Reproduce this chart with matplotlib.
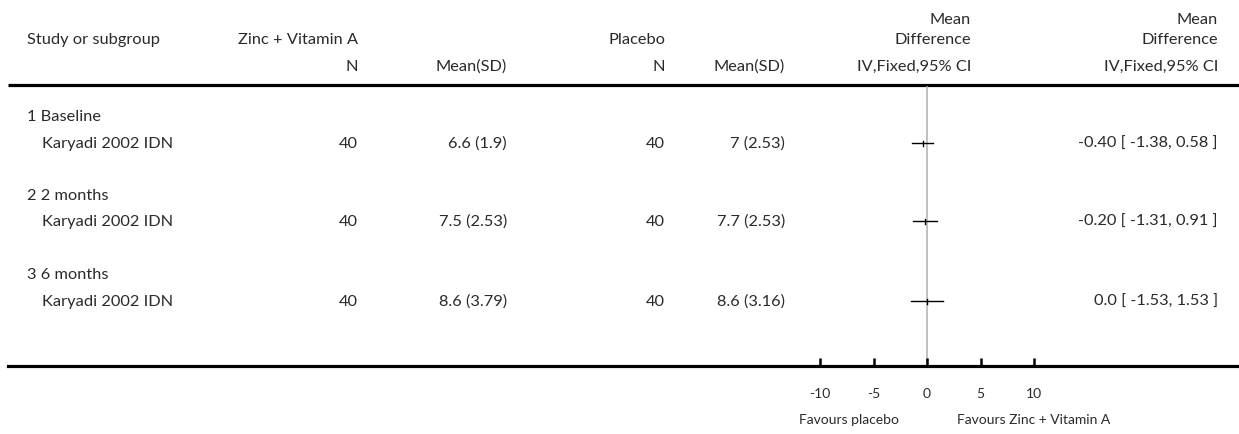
import matplotlib
matplotlib.use("Agg")
import matplotlib.pyplot as plt

plt.rcParams["font.family"] = ["Lato", "DejaVu Sans"]

# ---- data ----
subgroups = ["1 Baseline", "2 2 months", "3 6 months"]
studies = ["Karyadi 2002 IDN", "Karyadi 2002 IDN", "Karyadi 2002 IDN"]
n_treat = [40, 40, 40]
mean_sd_treat = ["6.6 (1.9)", "7.5 (2.53)", "8.6 (3.79)"]
n_ctrl = [40, 40, 40]
mean_sd_ctrl = ["7 (2.53)", "7.7 (2.53)", "8.6 (3.16)"]
md = [-0.40, -0.20, 0.0]
ci_low = [-1.38, -1.31, -1.53]
ci_high = [0.58, 0.91, 1.53]
md_labels = ["-0.40 [ -1.38, 0.58 ]", "-0.20 [ -1.31, 0.91 ]", "0.0 [ -1.53, 1.53 ]"]
axis_ticks = [-10, -5, 0, 5, 10]
tick_labels = ["-10", "-5", "0", "5", "10"]

W, H = 1239, 435
fig = plt.figure(figsize=(W / 100, H / 100), dpi=100)

# text layer in pixel coordinates
tx = fig.add_axes([0, 0, 1, 1])
tx.set_xlim(0, W)
tx.set_ylim(H, 0)
tx.axis("off")

TC = "#2a2a2a"
FS = 11.8
kw = dict(fontsize=FS, color=TC, va="center")

# column anchors (pixels)
X_SUB, X_STUDY = 27, 42
X_N1, X_M1, X_N2, X_M2 = 358, 507, 665, 785
X_CI, X_RIGHT = 971, 1218

# header
tx.text(X_SUB, 40, "Study or subgroup", ha="left", **kw)
tx.text(X_N1, 40, "Zinc + Vitamin A", ha="right", **kw)
tx.text(X_N2, 40, "Placebo", ha="right", **kw)
tx.text(X_CI, 20, "Mean", ha="right", **kw)
tx.text(X_CI, 40, "Difference", ha="right", **kw)
tx.text(X_RIGHT, 20, "Mean", ha="right", **kw)
tx.text(X_RIGHT, 40, "Difference", ha="right", **kw)
tx.text(X_N1, 67, "N", ha="right", **kw)
tx.text(X_M1, 67, "Mean(SD)", ha="right", **kw)
tx.text(X_N2, 67, "N", ha="right", **kw)
tx.text(X_M2, 67, "Mean(SD)", ha="right", **kw)
tx.text(X_CI, 67, "IV,Fixed,95% CI", ha="right", **kw)
tx.text(X_RIGHT, 67, "IV,Fixed,95% CI", ha="right", **kw)

tx.plot([8, W], [86, 86], color="black", lw=2.3, solid_capstyle="butt")

sub_y = [117, 196, 275]
row_y = [144, 222, 302]
for i in range(len(studies)):
    tx.text(X_SUB, sub_y[i], subgroups[i], ha="left", **kw)
    tx.text(X_STUDY, row_y[i], studies[i], ha="left", **kw)
    tx.text(X_N1, row_y[i], str(n_treat[i]), ha="right", **kw)
    tx.text(X_M1, row_y[i], mean_sd_treat[i], ha="right", **kw)
    tx.text(X_N2, row_y[i], str(n_ctrl[i]), ha="right", **kw)
    tx.text(X_M2, row_y[i], mean_sd_ctrl[i], ha="right", **kw)
    tx.text(X_RIGHT, row_y[i], md_labels[i], ha="right", **kw)

# forest plot axes: x in mean-difference units, y in pixels
zero_px, px_per_unit = 927, 10.7
left_px = 8
ax = fig.add_axes([left_px / W, 0, (W - left_px) / W, 1])
ax.set_xlim((left_px - zero_px) / px_per_unit, (W - zero_px) / px_per_unit)
ax.set_ylim(H, 0)
ax.patch.set_alpha(0)
for s in ["top", "left", "right"]:
    ax.spines[s].set_visible(False)
ax.spines["bottom"].set_position(("data", 367))
ax.spines["bottom"].set_linewidth(2.3)
ax.set_yticks([])
ax.set_xticks(axis_ticks)
ax.set_xticklabels(tick_labels)
ax.tick_params(axis="x", direction="in", length=6, width=1.8, pad=15,
               labelsize=10, labelcolor=TC)

tx.text(zero_px - 7.3 * px_per_unit, 420, "Favours placebo", ha="center",
        fontsize=10, color=TC, va="center")
tx.text(zero_px + 10 * px_per_unit, 420, "Favours Zinc + Vitamin A", ha="center",
        fontsize=10, color=TC, va="center")

ax.plot([0, 0], [88, 367], color="#b5b5b5", lw=1.2, zorder=1)
for i in range(len(md)):
    ax.plot([ci_low[i], ci_high[i]], [row_y[i], row_y[i]], color="black", lw=1, zorder=3)
    ax.plot([md[i], md[i]], [row_y[i] - 2.5, row_y[i] + 2.5], color="black", lw=1, zorder=3)

fig.savefig("out.png", dpi=100)
